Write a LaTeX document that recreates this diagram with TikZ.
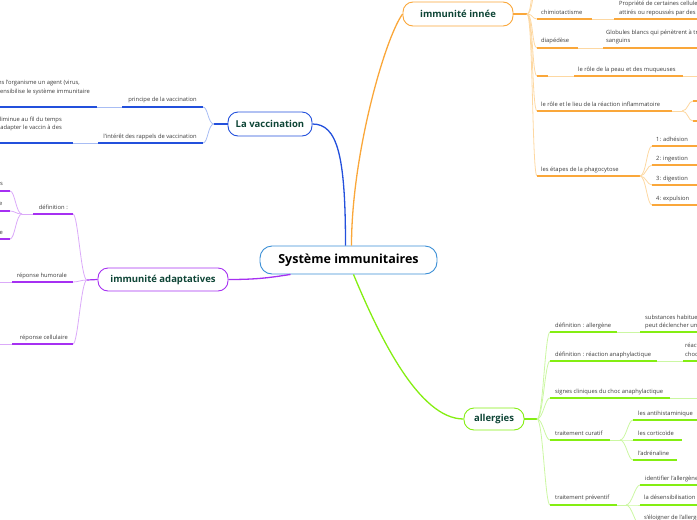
\documentclass[tikz,border=0pt]{standalone}
\usepackage{fontspec}
\setmainfont{Open Sans}
\definecolor{orng}{HTML}{FAA73A}
\definecolor{orngl}{HTML}{FDD8A2}
\definecolor{blu}{HTML}{2350DC}
\definecolor{blul}{HTML}{A8BDF4}
\definecolor{purp}{HTML}{A630F2}
\definecolor{purpl}{HTML}{DBAAF9}
\definecolor{grn}{HTML}{84EE12}
\definecolor{grnl}{HTML}{CBF7A2}
\definecolor{ctr}{HTML}{3B8FD6}
\definecolor{ttl}{HTML}{0E4536}
\definecolor{txt}{HTML}{3A3A3A}
\begin{document}
\begin{tikzpicture}[x=1pt,y=-1pt,
  lbl/.style={font=\fontsize{5.8}{7}\selectfont, text=txt, inner sep=0pt, anchor=base west},
  lblr/.style={lbl, anchor=base east},
  ul/.style={line width=1.5pt},
  cn/.style={line width=0.8pt},
  box/.style={draw=#1, line width=0.9pt, rounded corners=10pt, fill=white, inner sep=0pt, text=ttl, font=\bfseries\fontsize{9.5}{11}\selectfont},
  fr/.style={to path={.. controls +(6,0) and +(-5,0) .. (\tikztotarget)}},
  fl/.style={to path={.. controls +(-6,0) and +(5,0) .. (\tikztotarget)}},
]
\useasboundingbox (0,0) rectangle (697,520);
\clip (0,0) rectangle (697,520);

% ---------- main nodes
\node[draw=ctr, line width=0.9pt, rounded corners=12pt, minimum width=177pt, minimum height=28pt, inner sep=0pt, fill=white, font=\bfseries\fontsize{12.5}{14}\selectfont] (root) at (348.5,260) {Système immunitaires};
\node[box=orng, minimum width=110pt, minimum height=24pt] (inn) at (458,14) {immunité innée};
\node[box=blu, minimum width=84pt, minimum height=24pt] (vac) at (270,124) {La vaccination};
\node[box=purp, minimum width=130pt, minimum height=23pt] (ada) at (163,279.5) {immunité adaptatives};
\node[box=grn, minimum width=60pt, minimum height=22pt] (all) at (494,419) {allergies};

% ---------- connectors from the root
\draw[orng, line width=1.3pt] ([xshift=3pt]root.north) .. controls +(0,-90) and +(-18,25) .. (inn.west);
\draw[blu, line width=1.3pt] ([xshift=-3pt]root.north) .. controls +(0,-90) and +(25,0) .. (vac.east);
\draw[purp, line width=1.3pt] (ada.east) .. controls +(30,0) and +(-20,3) .. ([xshift=-58pt]root.south);
\draw[grn, line width=1.3pt] ([xshift=5pt]root.south) .. controls +(25,60) and +(-45,0) .. (all.west);

% ---------- immunité innée
\coordinate (inn-f) at (527,14);
\draw[orng, line width=1.2pt] (inn.east) -- (inn-f);
\coordinate (o0a) at (537,-12);
\coordinate (o0b) at (537,-36);
\coordinate (o1) at (537,19);
\coordinate (o2) at (537,48);
\coordinate (o3) at (537,76);
\coordinate (o4) at (537,111);
\coordinate (o5) at (537,176);
\foreach \c in {o0a,o0b,o1,o2,o3,o4,o5} \draw[orngl, cn] (inn-f) to[fr] (\c);
\draw[orng, ul] (o0a) -- ++(80,0);
\draw[orng, ul] (o0b) -- ++(80,0);

\draw[orng, ul] (o1) -- (592,19) coordinate (o1e);
\coordinate (o1c) at (614,19);
\draw[orngl, cn] (o1e) -- (o1c);
\draw[orng, ul] (o1c) -- (700,19);
\node[lbl] (t-chim) at (541,14) {chimiotactisme};
\node[lbl] (t-chim1) at (619,5) {Propriété de certaines cellules d'être};
\node[lbl] (t-chim2) at (619,14) {attirés ou repoussés par des substances chimiques};

\draw[orng, ul] (o2) -- (578,48) coordinate (o2e);
\coordinate (o2c) at (603,48);
\draw[orngl, cn] (o2e) -- (o2c);
\draw[orng, ul] (o2c) -- (700,48);
\node[lbl] (t-diap) at (541,42) {diapédèse};
\node[lbl] (t-diap1) at (606,34) {Globules blancs qui pénètrent à travers les vaisseaux};
\node[lbl] (t-diap2) at (606,42.5) {sanguins};

\draw[orng, ul] (o3) -- (548,76) coordinate (o3e);
\coordinate (o3c) at (574,76);
\draw[orngl, cn] (o3e) -- (o3c);
\draw[orng, ul] (o3c) -- (683,76) coordinate (o3d);
\draw[orngl, cn] (o3d) -- (700,76);
\node[lbl] (t-peau) at (578,71) {le rôle de la peau et des muqueuses};

\draw[orng, ul] (o4) -- (672,111) coordinate (o4e);
\coordinate (o4f) at (682,111);
\draw[orngl, cn] (o4e) -- (o4f);
\coordinate (o4a) at (693,101);
\coordinate (o4b) at (693,121);
\draw[orngl, cn] (o4f) to[fr] (o4a);
\draw[orngl, cn] (o4f) to[fr] (o4b);
\draw[orng, ul] (o4a) -- (700,101);
\draw[orng, ul] (o4b) -- (700,121);
\node[lbl] (t-infl) at (541,106) {le rôle et le lieu de la réaction inflammatoire};

\draw[orng, ul] (o5) -- (640,176) coordinate (o5e);
\coordinate (o51) at (652,146);
\coordinate (o52) at (652,165);
\coordinate (o53) at (652,185);
\coordinate (o54) at (652,205);
\foreach \c in {o51,o52,o53,o54} {\draw[orngl, cn] (o5e) to[fr] (\c); \draw[orng, ul] (\c) -- ++(50,0);}
\node[lbl] (t-phag) at (541,171) {les étapes de la phagocytose};
\node[lbl] (t-ph1) at (656,141) {1: adhésion};
\node[lbl] (t-ph2) at (656,160) {2: ingestion};
\node[lbl] (t-ph3) at (656,180) {3: digestion};
\node[lbl] (t-ph4) at (656,200) {4: expulsion};

% ---------- La vaccination
\coordinate (vac-f) at (214,124);
\draw[blu, line width=1.2pt] (vac.west) -- (vac-f);
\coordinate (b1) at (203,107);
\coordinate (b2) at (203,143);
\draw[blul, cn] (vac-f) to[fl] (b1);
\draw[blul, cn] (vac-f) to[fl] (b2);
\draw[blu, ul] (b1) -- (122,107) coordinate (b1e);
\coordinate (b1c) at (97,107);
\draw[blul, cn] (b1e) -- (b1c);
\draw[blu, ul] (b1c) -- (-5,107);
\node[lblr] (t-princ) at (197,101.5) {principe de la vaccination};
\node[lblr] (t-princ1) at (80,84) {Introduire dans l'organisme un agent (virus,};
\node[lblr] (t-princ2) at (90,93) {bactérie) qui sensibilise le système immunitaire};

\draw[blu, ul] (b2) -- (98,143) coordinate (b2e);
\coordinate (b2c) at (73,143);
\draw[blul, cn] (b2e) -- (b2c);
\draw[blu, ul] (b2c) -- (-5,143);
\node[lblr] (t-rapp) at (197,138) {l'intérêt des rappels de vaccination};
\node[lblr] (t-rapp1) at (62,121) {l'immunité diminue au fil du temps};
\node[lblr] (t-rapp2) at (62,129.5) {et il faut adapter le vaccin à des};

% ---------- immunité adaptatives
\coordinate (ada-f) at (87,280);
\draw[purp, line width=1.2pt] (ada.west) -- (ada-f);
\coordinate (p1) at (73,214);
\coordinate (p2) at (73,282);
\coordinate (p3) at (73,344);
\foreach \c in {p1,p2,p3} \draw[purpl, cn] (ada-f) to[fl] (\c);

\draw[purp, ul] (p1) -- (33,214) coordinate (p1e);
\coordinate (p1f) at (22,214);
\draw[purpl, cn] (p1e) -- (p1f);
\coordinate (p11) at (10,191);
\coordinate (p12) at (10,211);
\coordinate (p13) at (10,239);
\foreach \c in {p11,p12,p13} {\draw[purpl, cn] (p1f) to[fl] (\c); \draw[purp, ul] (\c) -- ++(-20,0);}
\node[lblr] (t-def) at (68,209) {définition :};
\node[lblr] (t-def1) at (3,185.5) {les lymphocytes};
\node[lblr] (t-def2) at (2.5,205.5) {l'antigène};
\node[lblr] (t-def3) at (3,234) {la mémoire immunitaire};

\draw[purp, ul] (p2) -- (12,282) coordinate (p2e);
\draw[purpl, cn] (p2e) -- (-5,282);
\node[lblr] (t-hum) at (67,277) {réponse humorale};

\draw[purp, ul] (p3) -- (12,344) coordinate (p3e);
\draw[purpl, cn] (p3e) -- (-5,344);
\node[lblr] (t-cell) at (68,339) {réponse cellulaire};

% ---------- allergies
\coordinate (all-f) at (537,419);
\draw[grn, line width=1.2pt] (all.east) -- (all-f);
\coordinate (g1) at (550,332);
\coordinate (g2) at (550,361);
\coordinate (g3) at (550,398);
\coordinate (g4) at (550,440);
\coordinate (g5) at (550,505);
\foreach \c in {g1,g2,g3,g4,g5} \draw[grnl, cn] (all-f) to[fr] (\c);

\draw[grn, ul] (g1) -- (617,332) coordinate (g1e);
\coordinate (g1c) at (640,332);
\draw[grnl, cn] (g1e) -- (g1c);
\draw[grn, ul] (g1c) -- (700,332);
\node[lbl] (t-dall) at (555,327) {définition : allergène};
\node[lbl] (t-dall1) at (645,319) {substances habituellement inoffensives qui};
\node[lbl] (t-dall2) at (645,327) {peut déclencher une réaction allergique};

\draw[grn, ul] (g2) -- (657,361) coordinate (g2e);
\coordinate (g2c) at (683,361);
\draw[grnl, cn] (g2e) -- (g2c);
\draw[grn, ul] (g2c) -- (700,361);
\node[lbl] (t-dana) at (555,356) {définition : réaction anaphylactique};
\node[lbl] (t-dana1) at (685,347) {réaction allergique};
\node[lbl] (t-dana2) at (685,356) {choc anaphylactique};

\draw[grn, ul] (g3) -- (670,398) coordinate (g3e);
\draw[grnl, cn] (g3e) -- (700,398);
\node[lbl] (t-sign) at (555,393) {signes cliniques du choc anaphylactique};

\draw[grn, ul] (g4) -- (610,440) coordinate (g4e);
\coordinate (g4f) at (620,440);
\draw[grnl, cn] (g4e) -- (g4f);
\coordinate (g41) at (633,420);
\coordinate (g42) at (633,440);
\coordinate (g43) at (633,460);
\foreach \c in {g41,g42,g43} \draw[grnl, cn] (g4f) to[fr] (\c);
\draw[grn, ul] (g41) -- (700,420);
\draw[grn, ul] (g42) -- (682,440);
\draw[grn, ul] (g43) -- (677,460);
\node[lbl] (t-cur) at (555,435) {traitement curatif};
\node[lbl] (t-cur1) at (638,415) {les antihistaminique};
\node[lbl] (t-cur2) at (638,435) {les corticoïde};
\node[lbl] (t-cur3) at (638,455) {l'adrénaline};

\draw[grn, ul] (g5) -- (617,505) coordinate (g5e);
\coordinate (g5f) at (626,505);
\draw[grnl, cn] (g5e) -- (g5f);
\coordinate (g51) at (640,485);
\coordinate (g52) at (640,505);
\coordinate (g53) at (640,525);
\foreach \c in {g51,g52,g53} {\draw[grnl, cn] (g5f) to[fr] (\c); \draw[grn, ul] (\c) -- ++(60,0);}
\node[lbl] (t-prev) at (555,499.5) {traitement préventif};
\node[lbl] (t-prev1) at (645,480) {identifier l'allergène};
\node[lbl] (t-prev2) at (644,499.5) {la désensibilisation};
\node[lbl] (t-prev3) at (644,519.5) {s'éloigner de l'allergène};
\end{tikzpicture}
\end{document}
